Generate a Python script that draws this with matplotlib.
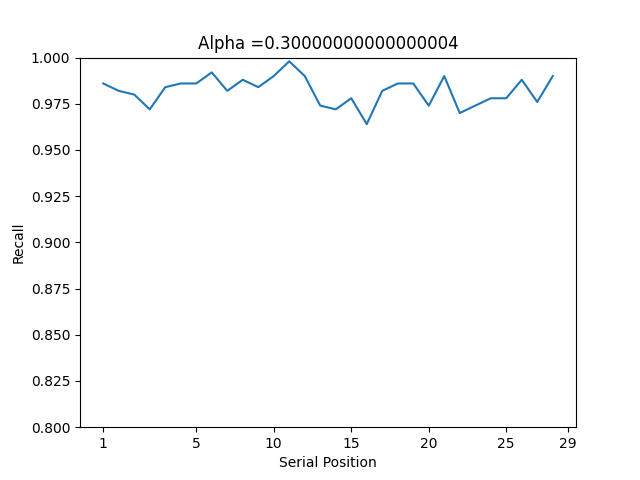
import numpy as np
import matplotlib
matplotlib.use("Agg")
import matplotlib.pyplot as plt

recall = [0.986, 0.982, 0.980, 0.972, 0.984, 0.986, 0.986, 0.992, 0.982, 0.988,
          0.984, 0.990, 0.998, 0.990, 0.974, 0.972, 0.978, 0.964, 0.982, 0.986,
          0.986, 0.974, 0.990, 0.970, 0.974, 0.978, 0.978, 0.988, 0.976, 0.990]
tick_pos = [0, 6, 11, 16, 21, 26, 30]
tick_labels = ["1", "5", "10", "15", "20", "25", "29"]

x = np.arange(len(recall))
plt.figure(figsize=(6.4, 4.8))
plt.plot(x, recall)
plt.xticks(tick_pos, tick_labels)
plt.xlim(-1.5, 30.5)
plt.ylim(0.8, 1.0)
plt.xlabel("Serial Position")
plt.ylabel("Recall")
plt.title("Alpha =" + str(0.1 * 3))
plt.savefig("out.png", dpi=100)
